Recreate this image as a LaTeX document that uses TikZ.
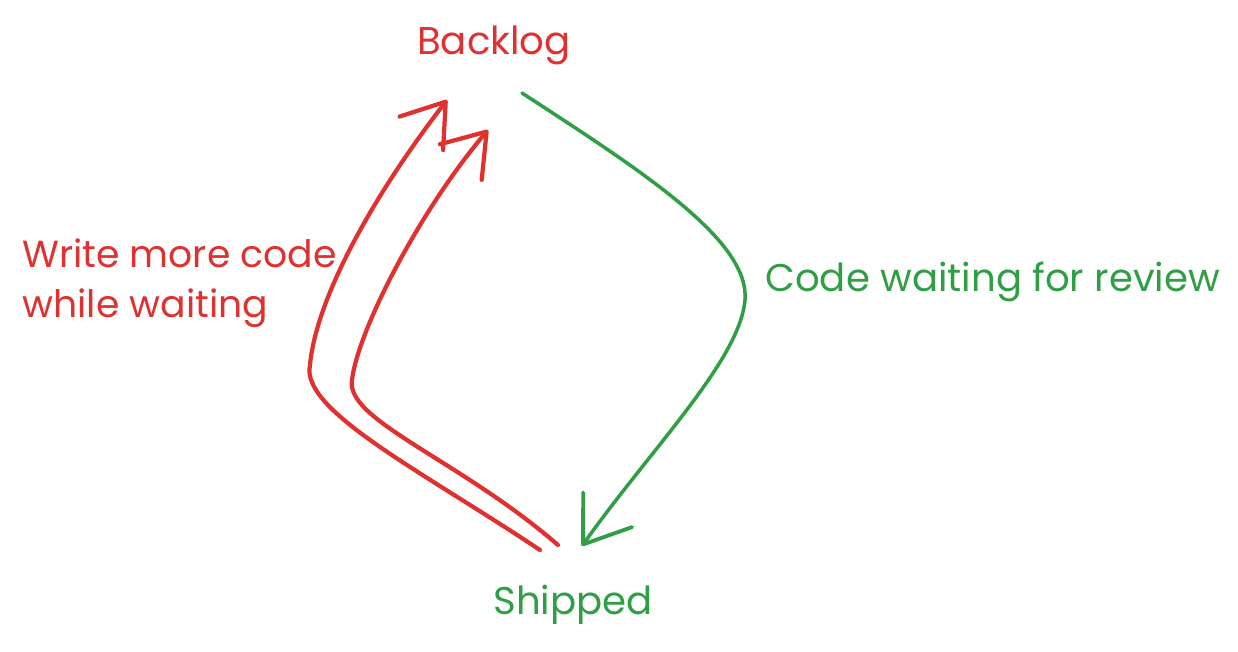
\documentclass[tikz,border=0pt]{standalone}
\usepackage{fontspec}
\setmainfont{Poppins}
\usepackage{xcolor}
\usepackage{tikz}
\usetikzlibrary{arrows.meta,calc}
\definecolor{exred}{HTML}{E03131}
\definecolor{exgreen}{HTML}{2F9E44}

\begin{document}
\begin{tikzpicture}[x=0.02cm, y=-0.02cm,
	redline/.style={draw=exred, line width=2.4pt, line cap=round, -{Straight Barb[length=0.8cm, width=1.1cm, line width=2.4pt, round]}},
	greenline/.style={draw=exgreen, line width=2pt, line cap=round, -{Straight Barb[length=0.85cm, width=1.2cm, line width=2.2pt, round]}},
	redtext/.style={text=exred, font=\fontsize{21.5}{28.5}\selectfont, align=left, inner sep=0pt},
	greentext/.style={text=exgreen, font=\fontsize{22}{28}\selectfont, inner sep=0pt}]
	\useasboundingbox (0,0) rectangle (1238,652);
	\node[text=exred, font=\fontsize{22}{26}\selectfont, inner sep=0pt] at (494,45)(backlog){Backlog};
	\node[text=exgreen, font=\fontsize{22}{26}\selectfont, inner sep=0pt] at (573,605)(shipped){Shipped};
	\node[redtext, anchor=west] at (22,283)(waitcode){Write more code\\while waiting};
	\node[greentext, anchor=west] at (765,282)(review){Code waiting for review};
	\draw[greenline] ($(backlog)+(28,48)$) .. controls (640,170) and (750,240) .. (745,300)
		.. controls (740,360) and (650,450) .. ($(shipped)+(9,-59)$);
	\draw[redline] ($(shipped)+(-33,-55)$) .. controls (420,470) and (300,410) .. (310,365)
		.. controls (316,300) and (370,200) .. ($(backlog)+(-47,55)$);
	\draw[redline] ($(shipped)+(-15,-60)$) .. controls (460,460) and (345,420) .. (352,380)
		.. controls (358,330) and (420,210) .. ($(backlog)+(-6,85)$);
\end{tikzpicture}
\end{document}
